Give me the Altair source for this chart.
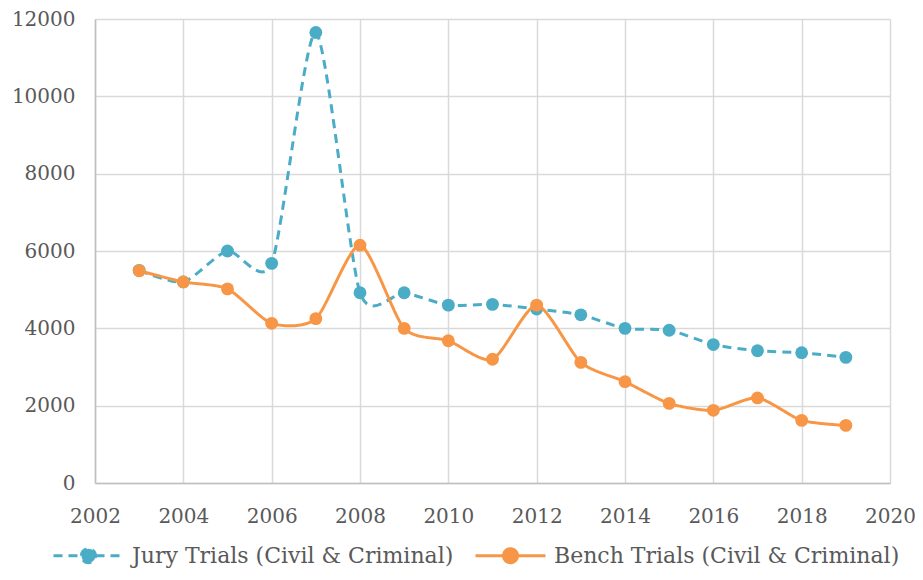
import altair as alt
import pandas as pd

years = list(range(2003, 2020))
jury = [5500, 5200, 6000, 5680, 11650, 4920, 4920, 4600, 4620, 4500, 4350, 4000, 3950, 3580, 3420, 3370, 3250]
bench = [5490, 5200, 5020, 4130, 4250, 6150, 4000, 3680, 3200, 4600, 3120, 2620, 2060, 1880, 2200, 1620, 1490]

JURY = "Jury Trials (Civil & Criminal)"
BENCH = "Bench Trials (Civil & Criminal)"
series_names = [JURY, BENCH]
series_colors = ["#4BACC6", "#F79646"]
x_ticks = list(range(2002, 2021, 2))
y_ticks = list(range(0, 12001, 2000))

df = pd.DataFrame(
    {"year": years * 2, "value": jury + bench, "series": [JURY] * len(years) + [BENCH] * len(years)}
)

FONT = "DejaVu Serif"
TXT = "#595959"

sym_path = "M-1,0H-0.2M0.2,0H1M-0.2,0A0.2,0.2,0,1,1,0.2,0A0.2,0.2,0,1,1,-0.2,0Z"

x = alt.X("year:Q", scale=alt.Scale(domain=[2002, 2020], nice=False),
          axis=alt.Axis(values=x_ticks, format="d", title=None, labelFlush=False))
y = alt.Y("value:Q", scale=alt.Scale(domain=[0, 12000], nice=False),
          axis=alt.Axis(values=y_ticks, format="d", title=None, labelFlush=False))
color = alt.Color(
    "series:N",
    scale=alt.Scale(domain=series_names, range=series_colors),
    legend=alt.Legend(
        title=None, orient="none", direction="horizontal", legendX=-43, legendY=500,
        symbolType=sym_path, symbolSize=4900, symbolStrokeWidth=3,
        symbolFillColor={"expr": "scale('color', datum.value)"},
        labelFont=FONT, labelFontSize=22, labelColor=TXT, labelOffset=7, labelLimit=500,
        columnPadding=15, padding=0,
    ),
)
dash = alt.StrokeDash(
    "series:N",
    scale=alt.Scale(domain=series_names, range=[[9, 6], [1, 0]]),
    legend=None,
)

base = alt.Chart(df).encode(x=x, y=y, color=color)

layers = []
for name in series_names:
    sub = base.transform_filter(alt.datum.series == name)
    layers.append(sub.mark_line(interpolate="cardinal", tension=0.3, strokeWidth=3).encode(strokeDash=dash))
    layers.append(sub.mark_point(filled=True, opacity=1, size=165))

chart = alt.layer(*layers).properties(
    width=795, height=464,
    autosize=alt.AutoSizeParams(type="none"),
    padding={"left": 87, "top": 11, "right": 25, "bottom": 88},
).configure_view(stroke=None).configure_axis(
    labelFont=FONT, labelFontSize=20, labelColor=TXT,
    gridColor="#d9d9d9", gridWidth=1.5, domainColor="#bfbfbf", domainWidth=1.5,
    ticks=False,
).configure_axisX(labelPadding=23).configure_axisY(labelPadding=20)

chart.save("out.html", embed_options={"renderer": "svg", "actions": False})
